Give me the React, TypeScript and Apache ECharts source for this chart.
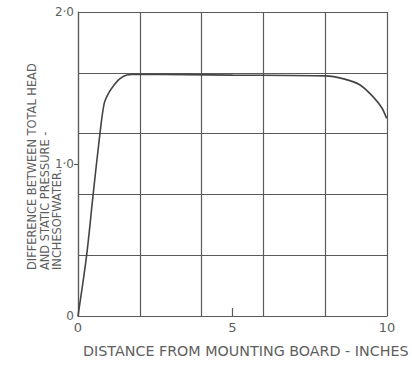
import React, { useEffect, useRef } from "react";
import * as echarts from "echarts";

const distance = [0, 0.28, 0.49, 0.71, 0.85, 1.0, 1.17, 1.35, 1.58, 2, 5, 8, 8.6, 9.13, 9.56, 9.83, 9.99];
const pressure = [0, 0.4, 0.8, 1.2, 1.4, 1.47, 1.52, 1.56, 1.585, 1.59, 1.585, 1.58, 1.56, 1.52, 1.44, 1.37, 1.3];
const xLabels: Record<number, string> = { 0: "0", 5: "5", 10: "10" };
const yLabels: Record<number, string> = { 0: "0", 1: "1·0", 2: "2·0" };
const xTitle = "DISTANCE FROM MOUNTING BOARD - INCHES";
const yTitle = ["DIFFERENCE BETWEEN TOTAL HEAD", "AND STATIC PRESSURE -", "INCHESOFWATER."];

const LINE = "#5a5a5a";
const TEXT = "#5e5e5e";
const FONT = "DejaVu Sans, sans-serif";

export default function App() {
  const ref = useRef<HTMLDivElement>(null);
  useEffect(() => {
    if (!ref.current) return;
    const chart = echarts.init(ref.current, null, { renderer: "svg" });
    const grid = { left: 78, right: 25, top: 12, bottom: 54 };
    chart.setOption({
      animation: false,
      backgroundColor: "#ffffff",
      grid,
      xAxis: [
        {
          type: "value", min: 0, max: 10, interval: 2,
          axisLine: { show: true, lineStyle: { color: LINE, width: 1.2 } },
          axisTick: { show: false }, axisLabel: { show: false },
          splitLine: { show: true, lineStyle: { color: LINE, width: 1.2 } },
        },
        {
          type: "value", min: 0, max: 10, interval: 5, position: "bottom",
          axisLine: { show: false },
          axisTick: { show: true, inside: true, length: 8, customValues: [5], lineStyle: { color: LINE, width: 1.2 } },
          axisLabel: { show: true, margin: 5, color: TEXT, fontFamily: FONT, fontSize: 13, formatter: (v: number) => xLabels[v] ?? "" },
          splitLine: { show: false },
        },
      ],
      yAxis: [
        {
          type: "value", min: 0, max: 2, interval: 0.4,
          axisLine: { show: true, lineStyle: { color: LINE, width: 1.2 } },
          axisTick: { show: false }, axisLabel: { show: false },
          splitLine: { show: true, lineStyle: { color: LINE, width: 1.2 } },
        },
        {
          type: "value", min: 0, max: 2, interval: 1, position: "left",
          axisLine: { show: false },
          axisTick: { show: true, length: 4, customValues: [1], lineStyle: { color: LINE, width: 1.2 } },
          axisLabel: { show: true, margin: 4, color: TEXT, fontFamily: FONT, fontSize: 12, formatter: (v: number) => yLabels[v] ?? "" },
          splitLine: { show: false },
        },
      ],
      series: [
        {
          type: "line",
          data: distance.map((d, i) => [d, pressure[i]]),
          smooth: 0.3,
          showSymbol: false,
          lineStyle: { color: "#444444", width: 1.6 },
        },
      ],
      graphic: [
        {
          type: "text", left: 83, top: 344,
          style: { text: xTitle, fill: TEXT, font: `14.3px ${FONT}` },
        },
        ...yTitle.map((t, i) => ({
          type: "text",
          x: 32 + i * 12.5, y: 270, rotation: Math.PI / 2,
          style: { text: t, fill: TEXT, font: `11.4px ${FONT}`, textAlign: "left", textVerticalAlign: "middle" },
        })),
      ],
    });
    return () => chart.dispose();
  }, []);
  return <div ref={ref} style={{ width: 412, height: 370, position: "absolute", left: 0, top: 0 }} />;
}
